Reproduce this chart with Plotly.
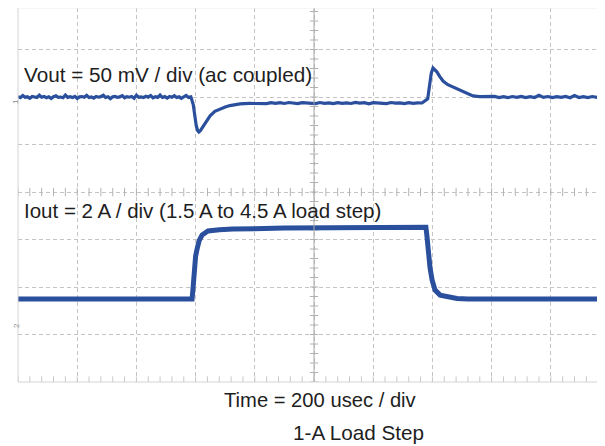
import plotly.graph_objects as go

# ---- data (read from the scope capture) ----
# time in usec (200 usec/div, 10 div on screen); Vout in mV (ac coupled); Iout in A
vout_pre_t = list(range(0, 590, 8))
vout_pre_mv = [0.4, -0.6, 1.6, -0.3, 0.2, -1.4, 0.5, 0.1, -0.5, 1.9, -0.2, 0.6, -0.7, 0.3,
               -1.6, 0.4, 1.2, -0.3, 0.0, -0.8, 2.0, -0.4, 0.3, -0.6, 0.7, -1.5, 0.2, 0.5,
               -0.3, 1.7, -0.6, 0.1, -1.2, 0.6, -0.2, 0.4, 1.8, -0.5, 0.2, -1.7, 0.3, 0.6,
               -0.4, 0.1, 1.5, -0.8, 0.4, -0.2, 0.5, -1.3, 1.9, -0.3, 0.2, -0.6, 0.8, -0.1,
               1.6, -0.9, 0.3, -0.4, 2.1, -0.5, 0.4, -1.1, 0.6, -0.3, 1.4, -0.6, 0.2, -1.5,
               0.5, 1.7, -0.4, 0.2]
vout_dip_t = [592, 597, 602, 607, 611, 616, 625, 636, 649, 665, 682, 700, 716, 733, 750,
              780, 820]
vout_dip_mv = [-8.0, -20.0, -30.0, -35.5, -36.8, -35.5, -31.5, -25.5, -19.8, -15.0, -12.6,
               -10.6, -9.0, -8.0, -7.2, -6.8, -6.5]
vout_mid_t = list(range(840, 1380, 15))
vout_mid_mv = [-6.9, -5.9, -6.6, -6.0, -6.8, -5.8, -6.5, -6.9, -5.9, -6.4, -6.1, -7.0,
               -5.8, -6.6, -6.1, -6.9, -5.9, -6.6, -6.2, -6.8, -5.7, -6.5, -6.0, -7.1,
               -5.9, -6.4, -6.2, -6.9, -5.8, -6.5, -6.1, -7.0, -5.9, -6.6, -6.2, -6.3]
vout_os_t = [1384, 1390, 1396, 1402, 1408, 1415, 1425, 1436, 1452, 1469, 1486, 1503, 1520,
             1537, 1560, 1594]
vout_os_mv = [-2.0, 12.0, 25.0, 30.5, 29.0, 26.5, 21.5, 16.8, 13.0, 10.5, 7.8, 5.3, 3.0,
              1.2, 0.5, 0.0]
vout_post_t = list(range(1610, 1990, 15))
vout_post_mv = [0.6, -0.5, 0.4, -0.7, 0.5, -0.4, 0.7, -0.6, 0.3, -0.5, 1.8, -0.4, 0.5,
                -0.6, 0.4, -0.3, 0.6, -0.7, 1.6, -0.5, 0.4, -0.6, 0.5, -0.4, 1.5, -0.3]

iout_t = [0, 588, 591, 595, 600, 605, 612, 622, 632, 642, 680, 726, 900, 1200, 1378, 1381,
          1385, 1392, 1399, 1409, 1426, 1459, 1483, 1520, 1983]
iout_a = [1.49, 1.49, 1.9, 2.7, 3.3, 3.6, 3.95, 4.19, 4.3, 4.36, 4.41, 4.44, 4.48, 4.51,
          4.52, 4.2, 3.56, 2.8, 2.29, 1.87, 1.66, 1.58, 1.52, 1.5, 1.49]

vout_t = vout_pre_t + vout_dip_t + vout_mid_t + vout_os_t + vout_post_t
vout_mv = vout_pre_mv + vout_dip_mv + vout_mid_mv + vout_os_mv + vout_post_mv

# scope settings
T_DIV = 200      # usec/div
V_DIV = 50       # mV/div
I_DIV = 2        # A/div
V_ZERO_DIV = 2   # Ch1 ground marker, divisions above centre
I_ZERO_DIV = -3  # Ch2 ground marker
DIV_BOTTOM, DIV_TOP = -4.0, 3.874
X_END = 1983

TRACE = "#2a4f9c"
GRID = "#c4c4c4"
TICK = "#b4b4b4"
TXT = "#1e1e1e"

fig = go.Figure()
fig.add_trace(go.Scatter(x=vout_t, y=vout_mv, mode="lines", yaxis="y",
                         line=dict(color=TRACE, width=3.2), hoverinfo="skip"))
fig.add_trace(go.Scatter(x=iout_t, y=iout_a, mode="lines", yaxis="y2",
                         line=dict(color=TRACE, width=5), hoverinfo="skip"))

# graticule tick marks on centre lines / bottom edge
centre_mv = (0 - V_ZERO_DIV) * V_DIV
bottom_mv = (DIV_BOTTOM - V_ZERO_DIV) * V_DIV
hx = [i * T_DIV / 5 for i in range(0, 51)]
fig.add_trace(go.Scatter(x=hx, y=[centre_mv] * len(hx), mode="markers", yaxis="y",
                         marker=dict(symbol="line-ns-open", size=6, color=TICK,
                                     line=dict(color=TICK, width=1)),
                         hoverinfo="skip"))
fig.add_trace(go.Scatter(x=hx, y=[bottom_mv] * len(hx), mode="markers", yaxis="y",
                         marker=dict(symbol="line-ns-open", size=8, color="#c8c8c8",
                                     line=dict(color="#c8c8c8", width=1)),
                         hoverinfo="skip"))
vy = [bottom_mv + i * V_DIV / 5 for i in range(0, 40)]
fig.add_trace(go.Scatter(x=[5 * T_DIV] * len(vy), y=vy, mode="markers", yaxis="y",
                         marker=dict(symbol="line-ew-open", size=6, color=TICK,
                                     line=dict(color=TICK, width=1)),
                         hoverinfo="skip"))

shapes = [
    dict(type="line", xref="x", yref="paper", x0=5 * T_DIV, x1=5 * T_DIV, y0=0, y1=1,
         line=dict(color="#a8a8a8", width=1)),
    dict(type="line", xref="paper", yref="paper", x0=0, x1=0, y0=0, y1=1,
         line=dict(color="#d4d4d4", width=1)),
    dict(type="line", xref="paper", yref="paper", x0=0, x1=1, y0=0, y1=0,
         line=dict(color="#d4d4d4", width=1)),
    dict(type="line", xref="paper", yref="paper", x0=0, x1=1, y0=1, y1=1,
         line=dict(color="#eeeeee", width=1)),
]

# page has an 8px body margin: figure origin sits at page (8, 8)
OFF = 8
FW, FH = 605 - OFF, 446 - OFF
PL, PT, PB = 18, 8, 382      # plot area in page pixels
PW, PH = 605 - PL, PB - PT


def px(x):
    return (x - PL) / PW


def py(y):
    return (PB - y) / PH


annotations = [
    dict(text="Vout = 50 mV / div (ac coupled)", x=px(22), y=py(74), xref="paper",
         yref="paper", xanchor="left", yanchor="middle", showarrow=False,
         font=dict(size=20.7, color=TXT)),
    dict(text="Iout = 2 A / div (1.5 A to 4.5 A load step)", x=px(22), y=py(211),
         xref="paper", yref="paper", xanchor="left", yanchor="middle", showarrow=False,
         font=dict(size=20.5, color=TXT)),
    dict(text="Time = 200 usec / div", x=px(320), y=py(400), xref="paper", yref="paper",
         xanchor="center", yanchor="middle", showarrow=False,
         font=dict(size=20.2, color=TXT)),
    dict(text="1-A Load Step", x=px(358), y=py(433), xref="paper", yref="paper",
         xanchor="center", yanchor="middle", showarrow=False,
         font=dict(size=20.7, color=TXT)),
    dict(text="1", x=px(9), y=py(97), xref="paper", yref="paper", textangle=-90,
         showarrow=False, font=dict(size=8, color="#8a8a8a")),
    dict(text="2", x=px(10), y=py(330), xref="paper", yref="paper", textangle=-90,
         showarrow=False, font=dict(size=8, color="#8a8a8a")),
]

fig.update_layout(
    width=FW, height=FH,
    margin=dict(l=PL - OFF, r=0, t=PT - OFF, b=FH - (PB - OFF), pad=0),
    paper_bgcolor="white", plot_bgcolor="white",
    showlegend=False,
    font=dict(family="Liberation Sans, Arial, sans-serif", color=TXT),
    xaxis=dict(range=[0, X_END], tick0=0, dtick=T_DIV, showgrid=True, gridcolor=GRID,
               griddash="4px,3px", gridwidth=1, zeroline=False, showticklabels=False,
               ticks="", showline=False, fixedrange=True),
    yaxis=dict(range=[(DIV_BOTTOM - V_ZERO_DIV) * V_DIV, (DIV_TOP - V_ZERO_DIV) * V_DIV],
               tick0=0, dtick=V_DIV, showgrid=True, gridcolor=GRID, griddash="4px,3px",
               gridwidth=1, zeroline=False, showticklabels=False, ticks="",
               showline=False, fixedrange=True),
    yaxis2=dict(range=[(DIV_BOTTOM - I_ZERO_DIV) * I_DIV, (DIV_TOP - I_ZERO_DIV) * I_DIV],
                overlaying="y", showgrid=False, zeroline=False, showticklabels=False,
                ticks="", fixedrange=True),
    shapes=shapes,
    annotations=annotations,
)

fig.write_html("out.html")
